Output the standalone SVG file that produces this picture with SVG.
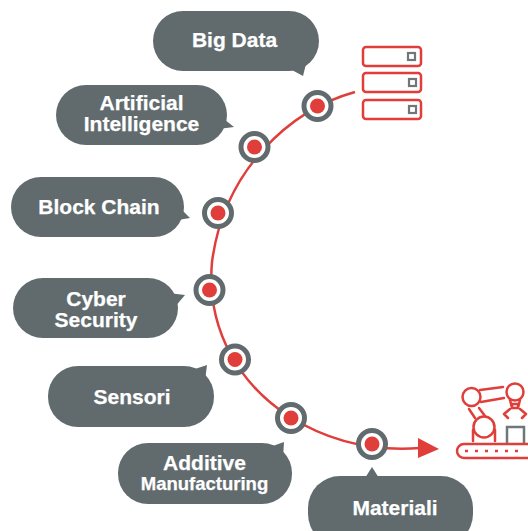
<svg xmlns="http://www.w3.org/2000/svg" width="528" height="531" viewBox="0 0 528 531">
<defs><style>
.b{fill:#616b6e}
.t{font-family:"Liberation Sans",Arial,sans-serif;font-weight:700;font-size:21px;fill:#fff;stroke:#fff;stroke-width:.25;text-anchor:middle}
.c{fill:none;stroke:#e03e3a;stroke-width:2.500}
.i{fill:none;stroke:#e03e3a;stroke-width:2.500;stroke-linecap:round;stroke-linejoin:round}
.r{fill:#fff;stroke:#616b6e;stroke-width:5}
.d{fill:#e03e3a}
.g{fill:none;stroke:#6f777a;stroke-width:2.200}
</style></defs>
<g id="connectors">
<path class="c" d="M355 92C290 110 224 170 212 262C206 330 240 385 290 417C335 445 380 451 420 448"/>
<path d="M418 438L418 458L439 449Z" class="d"/>
</g>
<g id="big-data"><rect class="b" x="153" y="11" width="166" height="60" rx="30"/><path class="b" d="M290 69L303 76L306 64Z"/><text class="t" x="234.500" y="47">Big Data</text></g>
<g id="ai"><rect class="b" x="56" y="85" width="171" height="60" rx="30"/><path class="b" d="M220 116L234 127L218 129Z"/><text class="t" x="141.500" y="110">Artificial</text><text class="t" x="141.500" y="131">Intelligence</text></g>
<g id="block-chain"><rect class="b" x="11" y="177" width="173" height="60" rx="30"/><path class="b" d="M178 206L190 218L172 221Z"/><text class="t" x="99" y="214">Block Chain</text></g>
<g id="cyber-security"><rect class="b" x="13" y="278" width="165" height="60" rx="30"/><path class="b" d="M168 293L185 295L174 308Z"/><text class="t" x="96" y="306">Cyber</text><text class="t" x="96" y="327">Security</text></g>
<g id="sensori"><rect class="b" x="48" y="366" width="166" height="61" rx="30"/><path class="b" d="M192 370L207 365L205 381Z"/><text class="t" x="132" y="404">Sensori</text></g>
<g id="additive"><rect class="b" x="118" y="443" width="174" height="61" rx="30"/><path class="b" d="M270 447L284 442L283 458Z"/><text class="t" x="204.500" y="470">Additive</text><text class="t" x="204.500" y="490" style="font-size:18.500px">Manufacturing</text></g>
<g id="materiali"><rect class="b" x="308" y="476" width="165" height="70" rx="32"/><path class="b" d="M365 478L372 467L379 478Z"/><text class="t" x="395" y="515">Materiali</text></g>
<g id="node-1"><circle class="r" cx="317.500" cy="106" r="13.500"/><circle class="d" cx="317.500" cy="106" r="7.500"/></g>
<g id="node-2"><circle class="r" cx="254.500" cy="147" r="13.500"/><circle class="d" cx="254.500" cy="147" r="7.500"/></g>
<g id="node-3"><circle class="r" cx="218" cy="213" r="13.500"/><circle class="d" cx="218" cy="213" r="7.500"/></g>
<g id="node-4"><circle class="r" cx="209.500" cy="290" r="13.500"/><circle class="d" cx="209.500" cy="290" r="7.500"/></g>
<g id="node-5"><circle class="r" cx="235" cy="359.500" r="13.500"/><circle class="d" cx="235" cy="359.500" r="7.500"/></g>
<g id="node-6"><circle class="r" cx="291" cy="418" r="13.500"/><circle class="d" cx="291" cy="418" r="7.500"/></g>
<g id="node-7"><circle class="r" cx="372" cy="444" r="13.500"/><circle class="d" cx="372" cy="444" r="7.500"/></g>
<g id="servers">
<rect class="i" x="363" y="47" width="58" height="19" rx="3"/><rect class="i" x="363" y="73" width="58" height="19" rx="3"/><rect class="i" x="363" y="100" width="58" height="19" rx="3"/>
<rect class="g" x="408" y="53" width="7" height="7"/><rect class="g" x="409" y="79" width="7" height="7"/><rect class="g" x="409" y="106" width="7" height="7"/>
</g>
<g id="factory">
<rect class="i" x="457" y="444" width="90" height="14" rx="7"/>
<path d="M465 451H525" fill="none" stroke="#e03e3a" stroke-width="2.500" stroke-dasharray="3 7"/>
<circle class="i" cx="471.500" cy="397" r="9"/><path class="i" d="M480 390L503 387M481 402L504 398"/>
<path class="i" d="M469 409L475 418M479 408L485 416"/>
<circle class="i" cx="484" cy="427" r="10.500"/><path class="i" d="M473 430V441M495 430V441"/>
<circle class="i" cx="515" cy="392" r="8.500"/><path class="i" d="M510 400L512 408V404H518V408L520 400M512 408H518V404M510 409L504 414L508 418M520 409L526 414L522 418"/>
<path fill="none" stroke="#6f777a" stroke-width="2.500" d="M507 443V427H524V443"/>
</g>
</svg>
